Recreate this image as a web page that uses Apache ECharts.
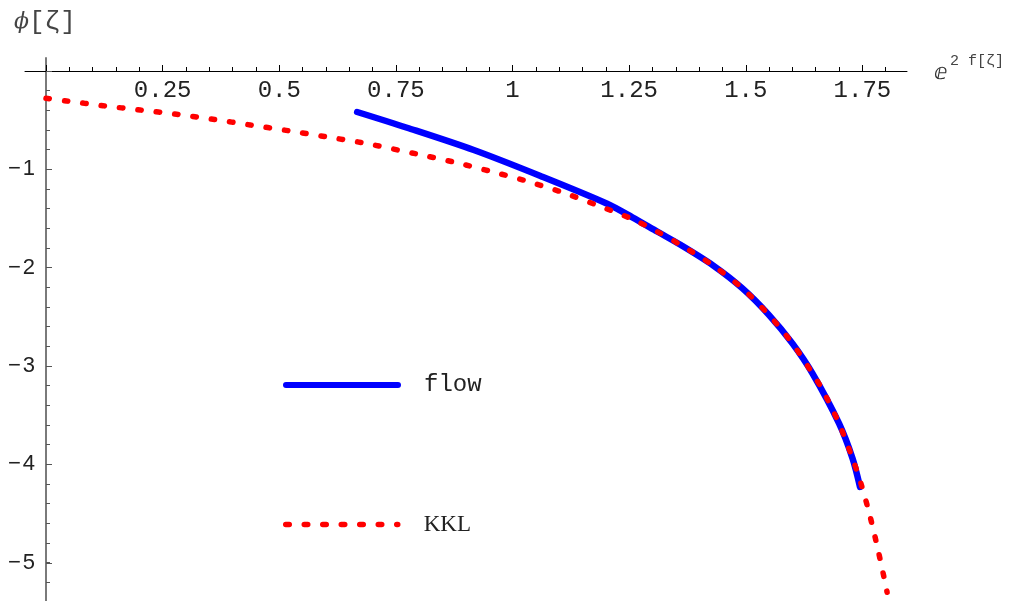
<!DOCTYPE html>
<html>
<head>
    <meta charset="utf-8" />
    <title></title>
    <script type="text/javascript" src="https://cdn.jsdelivr.net/npm/echarts@6/dist/echarts.min.js"></script>
    <style>
        html, body { margin: 0; padding: 0; background: #fff; }
        #con1 { width: 1012px; height: 601px; }
    </style>
</head>
<body>
    <div id="con1"></div>
    <script type="text/javascript">
        // flow curve
        var flowX = [0.667, 0.774, 0.917, 1.060, 1.203, 1.257, 1.311, 1.361, 1.429, 1.493, 1.550, 1.600, 1.643, 1.700, 1.729, 1.745];
        var flowY = [-0.417, -0.577, -0.804, -1.068, -1.350, -1.488, -1.635, -1.770, -1.974, -2.211, -2.482, -2.770, -3.075, -3.584, -3.940, -4.229];
        // KKL curve
        var kklX = [0, 0.044, 0.122, 0.202, 0.280, 0.358, 0.438, 0.519, 0.599, 0.677, 0.795, 0.874, 0.953, 1.028, 1.107, 1.182, 1.257, 1.311, 1.361, 1.429, 1.493, 1.550, 1.600, 1.643, 1.665, 1.700, 1.729, 1.747, 1.765, 1.783, 1.800, 1.803];
        var kklY = [-0.278, -0.305, -0.353, -0.397, -0.440, -0.491, -0.549, -0.607, -0.668, -0.729, -0.844, -0.926, -1.020, -1.116, -1.234, -1.366, -1.506, -1.635, -1.770, -1.974, -2.211, -2.482, -2.770, -3.075, -3.245, -3.584, -3.940, -4.194, -4.500, -4.856, -5.229, -5.300];
        // tick labels
        var xTickValues = [0.25, 0.5, 0.75, 1, 1.25, 1.5, 1.75];
        var xTickLabels = ['0.25', '0.5', '0.75', '1', '1.25', '1.5', '1.75'];
        var yTickValues = [-1, -2, -3, -4, -5];
        var yTickLabels = ['\u2212\u200a1', '\u2212\u200a2', '\u2212\u200a3', '\u2212\u200a4', '\u2212\u200a5'];

        function pairs(xs, ys) {
            var out = [];
            for (var i = 0; i < xs.length; i++) out.push([xs[i], ys[i]]);
            return out;
        }
        function lookup(vals, labels, v) {
            for (var i = 0; i < vals.length; i++) {
                if (Math.abs(vals[i] - v) < 1e-6) return labels[i];
            }
            return '';
        }

        var hidden = function (g) { return { type: 'value', gridIndex: g, show: false, min: 0, max: 1 }; };

        var myChart1 = echarts.init(document.getElementById('con1'));
        var option1 = {
            backgroundColor: '#ffffff',
            animation: false,
            grid: [
                { left: 25, right: 105, top: 58, bottom: 0 },          // plot area
                { left: 46, width: 816.4, top: 71, height: 100 },      // x major ticks 0..1.75
                { left: 46, width: 839.7, top: 71, height: 100 },      // x minor ticks 0..1.8
                { left: 46, width: 100, top: 71, height: 491.75 },     // y major ticks 0..-5
                { left: 46, width: 100, top: 71, height: 511.4 }       // y minor ticks 0..-5.2
            ],
            xAxis: [
                {
                    type: 'value', gridIndex: 0, min: -0.045, max: 1.8457,
                    axisLine: { onZero: true, lineStyle: { color: '#000', width: 1 } },
                    axisTick: { show: false }, axisLabel: { show: false }, splitLine: { show: false }
                },
                {
                    type: 'value', gridIndex: 1, position: 'top', min: 0, max: 1.75, interval: 0.25,
                    axisLine: { show: false, onZero: false },
                    axisTick: { inside: false, length: 6, lineStyle: { color: '#000', width: 1 } },
                    axisLabel: {
                        inside: true, margin: 8, fontFamily: 'Liberation Mono', fontSize: 24, color: '#222',
                        formatter: function (v) { return lookup(xTickValues, xTickLabels, v); }
                    },
                    splitLine: { show: false }
                },
                {
                    type: 'value', gridIndex: 2, position: 'top', min: 0, max: 1.8, interval: 0.05,
                    axisLine: { show: false, onZero: false },
                    axisTick: { inside: false, length: 4, lineStyle: { color: '#000', width: 1 } },
                    axisLabel: { show: false }, splitLine: { show: false }
                },
                hidden(3), hidden(4)
            ],
            yAxis: [
                {
                    type: 'value', gridIndex: 0, min: -5.389, max: 0.132,
                    axisLine: { onZero: true, lineStyle: { color: '#7a7a7a', width: 2 } },
                    axisTick: { show: false }, axisLabel: { show: false }, splitLine: { show: false }
                },
                hidden(1), hidden(2),
                {
                    type: 'value', gridIndex: 3, position: 'left', min: -5, max: 0, interval: 1,
                    axisLine: { show: false, onZero: false },
                    axisTick: { inside: true, length: 6, lineStyle: { color: '#555', width: 1 } },
                    axisLabel: {
                        margin: 11, fontFamily: 'Liberation Sans', fontSize: 22, color: '#222',
                        formatter: function (v) { return lookup(yTickValues, yTickLabels, v); }
                    },
                    splitLine: { show: false }
                },
                {
                    type: 'value', gridIndex: 4, position: 'left', min: -5.2, max: 0, interval: 0.2,
                    axisLine: { show: false, onZero: false },
                    axisTick: { inside: true, length: 4, lineStyle: { color: '#555', width: 1 } },
                    axisLabel: { show: false }, splitLine: { show: false }
                }
            ],
            legend: [
                {
                    data: ['flow'], left: 283, top: 373, padding: 0,
                    itemWidth: 112, itemHeight: 14,
                    itemStyle: { opacity: 0 },
                    lineStyle: { color: '#0000ff', width: 6, cap: 'round' },
                    textStyle: { fontFamily: 'Liberation Mono', fontSize: 24, color: '#222', padding: [0, 0, 0, 21] }
                },
                {
                    data: ['KKL'], left: 283, top: 513, padding: 0,
                    itemWidth: 112, itemHeight: 14,
                    itemStyle: { opacity: 0 },
                    lineStyle: { color: '#ff0000', width: 5.5, type: [3.5, 15], cap: 'round' },
                    textStyle: { fontFamily: 'Liberation Serif', fontSize: 23, color: '#222', padding: [0, 0, 0, 21] }
                }
            ],
            graphic: [
                {
                    type: 'text', left: 14, top: 9,
                    style: {
                        text: '{a|\u03d5}{b|[\u03b6]}',
                        rich: {
                            a: { fontFamily: 'DejaVu Serif', fontStyle: 'italic', fontSize: 22, fill: '#444' },
                            b: { fontFamily: 'Liberation Mono', fontSize: 26, fill: '#444' }
                        }
                    }
                },
                {
                    type: 'text', left: 934, top: 62,
                    style: { text: '\u2147', font: '22px "DejaVu Sans"', fill: '#333' }
                },
                {
                    type: 'text', left: 950, top: 54,
                    style: { text: '2 f[\u03b6]', font: '15px "Liberation Mono"', fill: '#444' }
                }
            ],
            series: [
                {
                    name: 'flow', type: 'line', xAxisIndex: 0, yAxisIndex: 0,
                    data: pairs(flowX, flowY), symbol: 'none', smooth: 0.3,
                    lineStyle: { color: '#0000ff', width: 6.5, cap: 'round', join: 'round' },
                    itemStyle: { color: '#0000ff' }, z: 2
                },
                {
                    name: 'KKL', type: 'line', xAxisIndex: 0, yAxisIndex: 0,
                    data: pairs(kklX, kklY), symbol: 'none', smooth: 0.3,
                    lineStyle: { color: '#ff0000', width: 5.5, type: [3.5, 15], cap: 'round', join: 'round' },
                    itemStyle: { color: '#ff0000' }, z: 3
                }
            ]
        };
        option1 && myChart1.setOption(option1);
    </script>
</body>
</html>
